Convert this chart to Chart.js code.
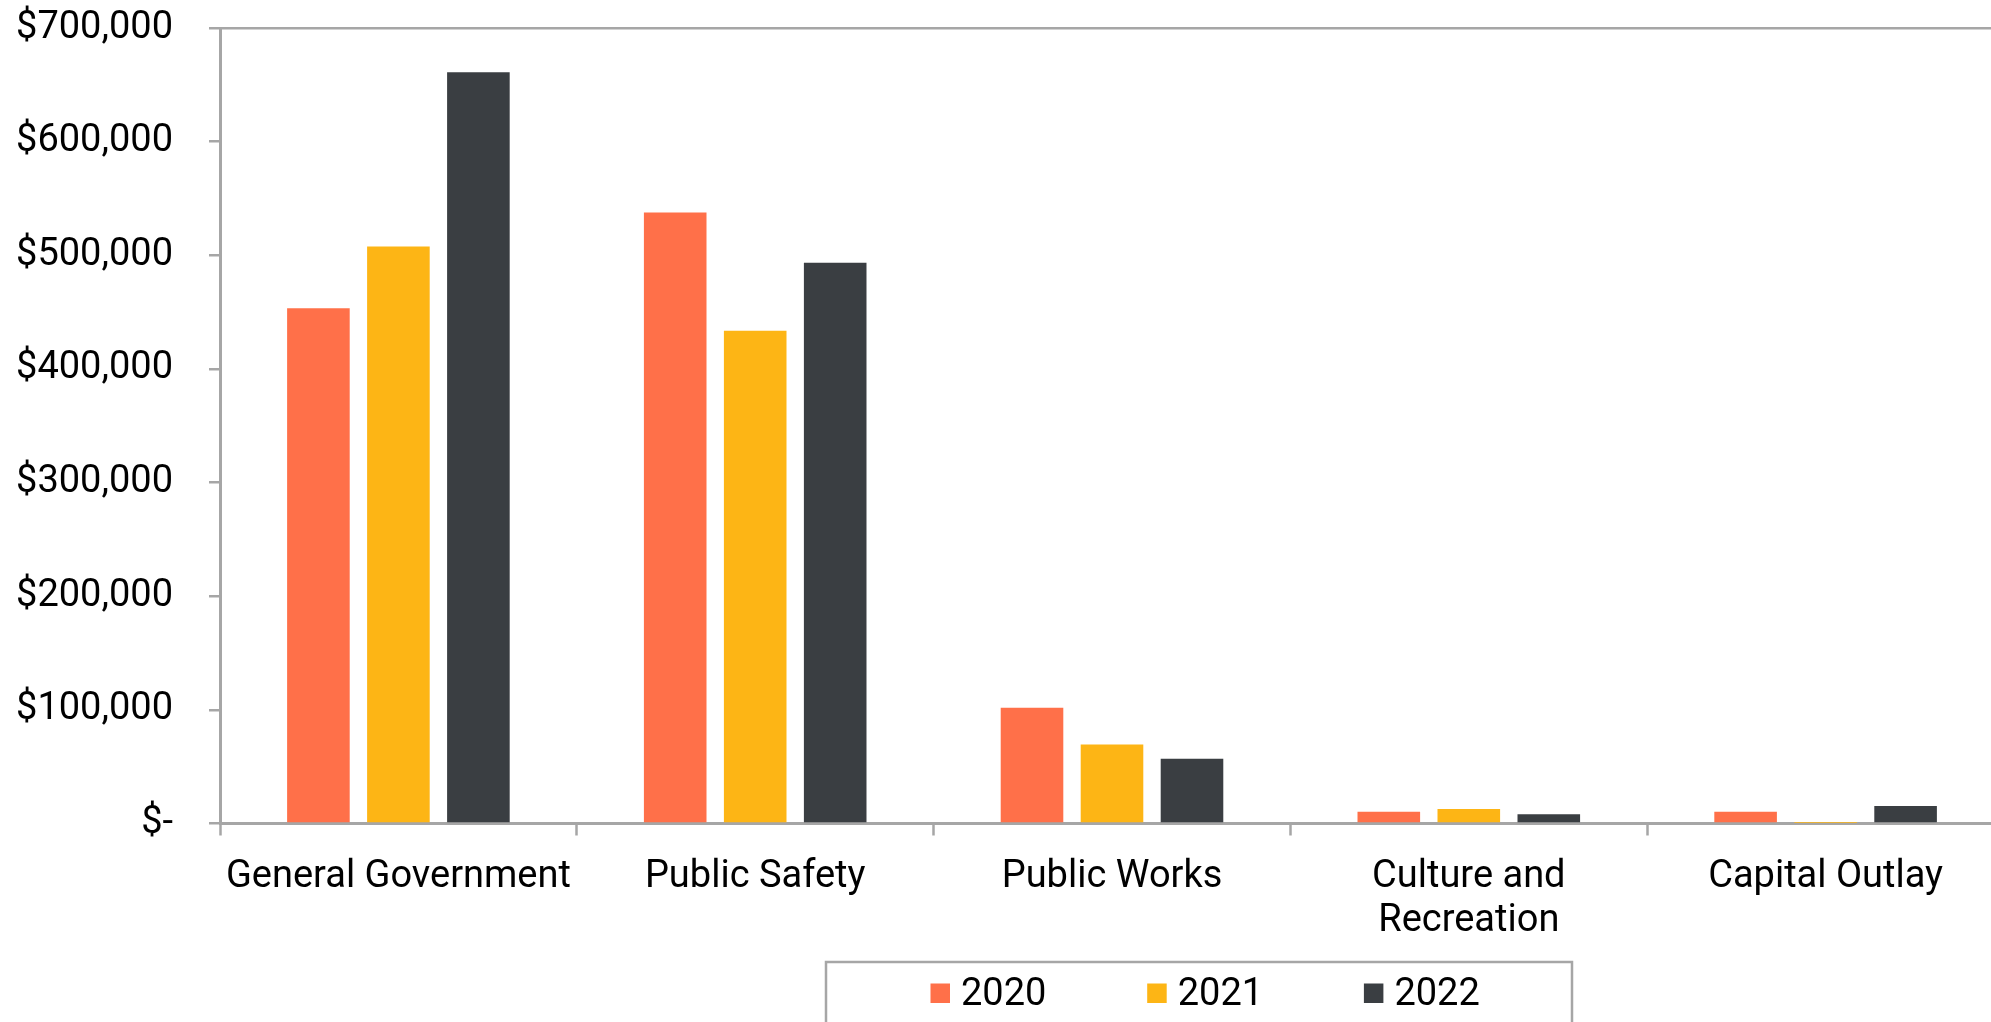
<!DOCTYPE html>
<html>
<head>
<meta charset="utf-8">
<script src="https://cdn.jsdelivr.net/npm/chart.js@4.4.1/dist/chart.umd.min.js"></script>
<style>
  html, body { margin: 0; padding: 0; background: #fff; overflow: hidden; }
  #wrap { position: relative; width: 2004px; height: 1022px; }
</style>
</head>
<body>
<div id="wrap"><canvas id="myChart"></canvas></div>
<script>
const categories = ["General Government", "Public Safety", "Public Works", ["Culture and", "Recreation"], "Capital Outlay"];
const years = ["2020", "2021", "2022"];
const values2020 = [453500, 537700, 101800, 10400, 10400];
const values2021 = [507700, 433500, 69600, 12800, 500];
const values2022 = [661000, 493400, 57000, 8100, 15400];
const yTicks = [0, 100000, 200000, 300000, 400000, 500000, 600000, 700000];

const colors = ["#FF7049", "#FDB515", "#3A3E42"];
const axisGray = "#a6a6a6";
const fontFamily = "Roboto";

// boxed legend below the plot, clipped by the bottom edge like the original
const boxLegend = {
  id: "boxLegend",
  afterDraw(chart) {
    const c = chart.ctx;
    c.save();
    c.strokeStyle = axisGray;
    c.lineWidth = 2.5;
    c.strokeRect(826, 962, 746, 120);
    c.font = "38px " + fontFamily;
    c.textBaseline = "middle";
    c.textAlign = "left";
    chart.data.datasets.forEach((ds, i) => {
      const x = 930.5 + i * 216.7;
      c.fillStyle = ds.backgroundColor;
      c.fillRect(x, 983.5, 19.5, 19.5);
      c.fillStyle = "#000";
      c.fillText(ds.label, x + 30.5, 995);
    });
    c.restore();
  },
};

const ctx = document.getElementById("myChart");

new Chart(ctx, {
  type: "bar",
  data: {
    labels: categories,
    datasets: [
      { label: years[0], data: values2020, backgroundColor: colors[0] },
      { label: years[1], data: values2021, backgroundColor: colors[1] },
      { label: years[2], data: values2022, backgroundColor: colors[2] },
    ],
  },
  options: {
    responsive: true,
    maintainAspectRatio: false,
    animation: false,
    categoryPercentage: 0.6726,
    barPercentage: 0.7825,
    layout: {
      padding: { top: 28, left: 0, right: 0, bottom: 0 },
    },
    plugins: {
      legend: { display: false },
      tooltip: { enabled: false },
    },
    scales: {
      x: {
        afterFit: (scale) => { scale.height = 198.5; },
        border: { display: true, color: axisGray, width: 3 },
        grid: {
          offset: true,
          drawOnChartArea: false,
          drawTicks: true,
          tickLength: 12,
          color: axisGray,
          tickColor: axisGray,
          tickWidth: 2.5,
        },
        ticks: {
          color: "#000",
          padding: 20,
          maxRotation: 0,
          autoSkip: false,
          font: { family: fontFamily, size: 38, lineHeight: 1.15 },
        },
      },
      y: {
        min: 0,
        max: 700000,
        afterFit: (scale) => {
          scale.width = 220;
          scale.paddingTop = 0;
          scale.paddingBottom = 0;
        },
        afterBuildTicks: (scale) => { scale.ticks = yTicks.map((v) => ({ value: v })); },
        border: { display: true, color: axisGray, width: 3 },
        grid: {
          drawTicks: true,
          tickLength: 11,
          lineWidth: 2.5,
          tickWidth: 2.5,
          color: (c) => (c.tick && c.tick.value === 700000 ? axisGray : "rgba(0,0,0,0)"),
          tickColor: axisGray,
        },
        ticks: {
          color: "#000",
          padding: 36,
          font: { family: fontFamily, size: 38 },
          callback: (v) => (v === 0 ? "$-" : "$" + Number(v).toLocaleString("en-US")),
        },
      },
    },
  },
  plugins: [boxLegend],
});
</script>
</body>
</html>
